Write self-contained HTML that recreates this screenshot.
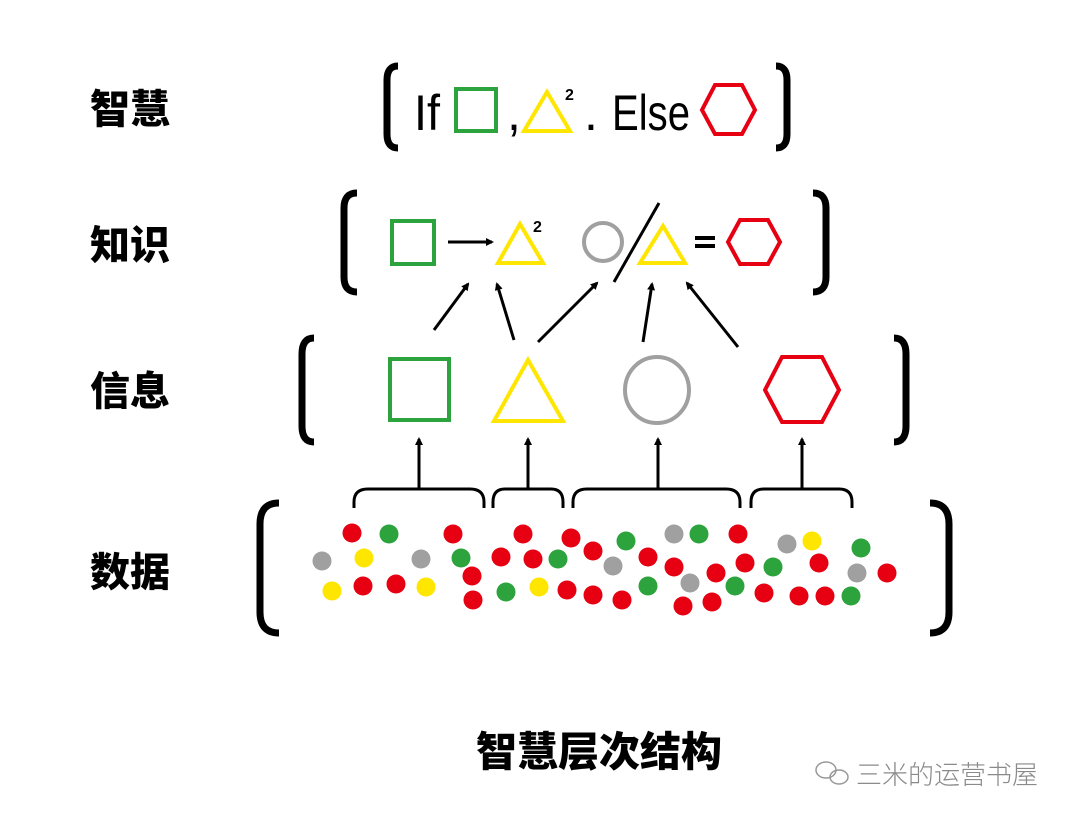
<!DOCTYPE html>
<html><head><meta charset="utf-8"><style>
html,body{margin:0;padding:0;background:#fff;}
svg{display:block;}
.lab{font-family:"Liberation Sans","Noto Sans CJK SC",sans-serif;font-weight:900;font-size:40px;fill:#000;}
</style></head><body>
<svg width="1080" height="821" viewBox="0 0 1080 821" xmlns="http://www.w3.org/2000/svg">
<defs><marker id="ah" markerWidth="8" markerHeight="8" refX="6" refY="4" orient="auto" markerUnits="userSpaceOnUse"><path d="M0,0 L8,4 L0,8 z" fill="#000"/></marker></defs>
<g class="lab">
<text x="90" y="123">智慧</text>
<text x="90" y="259">知识</text>
<text x="90" y="405">信息</text>
<text x="90" y="586">数据</text>
</g>
<g fill="none" stroke="#000" stroke-width="7">
<path d="M398,66 Q387,66 387,80 L387,134 Q387,148 398,148"/>
<path d="M776,66 Q787,66 787,80 L787,134 Q787,148 776,148"/>
<path d="M357,193 Q344,193 344,208 L344,277 Q344,292 357,292"/>
<path d="M813,193 Q826,193 826,208 L826,277 Q826,292 813,292"/>
<path d="M314,338 Q302,338 302,354 L302,426 Q302,442 314,442"/>
<path d="M894,338 Q906,338 906,354 L906,426 Q906,442 894,442"/>
<path d="M279,503 Q260,503 260,524 L260,612 Q260,633 279,633"/>
<path d="M930,503 Q949,503 949,524 L949,612 Q949,633 930,633"/>
</g>
<text x="414" y="130" font-family="Liberation Sans,sans-serif" font-size="50" fill="#000" textLength="26" lengthAdjust="spacingAndGlyphs">If</text>
<rect x="456" y="89" width="40" height="42" fill="none" stroke="#2ca33c" stroke-width="4"/>
<text x="507" y="130" font-family="Liberation Sans,sans-serif" font-size="50" fill="#000">,</text>
<polygon points="547,92 524,131 570,131" fill="none" stroke="#ffe600" stroke-width="4"/>
<text x="565" y="100" font-family="Liberation Sans,sans-serif" font-weight="bold" font-size="16" fill="#000">2</text>
<text x="584" y="130" font-family="Liberation Sans,sans-serif" font-size="50" fill="#000">.</text>
<text x="612" y="130" font-family="Liberation Sans,sans-serif" font-size="50" fill="#000" textLength="78" lengthAdjust="spacingAndGlyphs">Else</text>
<polygon points="715,85 742,85 755,110 742,134 715,134 702,110" fill="none" stroke="#e60012" stroke-width="4"/>
<rect x="392" y="221" width="42" height="43" fill="none" stroke="#2ca33c" stroke-width="4"/>
<line x1="448" y1="242" x2="492" y2="242" stroke="#000" stroke-width="3" marker-end="url(#ah)"/>
<polygon points="520,224 498,263 543,263" fill="none" stroke="#ffe600" stroke-width="4"/>
<text x="533" y="232" font-family="Liberation Sans,sans-serif" font-weight="bold" font-size="16" fill="#000">2</text>
<circle cx="603" cy="242" r="19" fill="none" stroke="#a0a0a0" stroke-width="4"/>
<line x1="659" y1="203" x2="614" y2="282" stroke="#000" stroke-width="3"/>
<polygon points="663,226 640,263 685,263" fill="none" stroke="#ffe600" stroke-width="4"/>
<rect x="695" y="236" width="20" height="4" fill="#000"/><rect x="695" y="244" width="20" height="4" fill="#000"/>
<polygon points="740,220 768,220 780,242 768,264 740,264 728,242" fill="none" stroke="#e60012" stroke-width="4"/>
<g stroke="#000" stroke-width="3" marker-end="url(#ah)">
<line x1="434" y1="330" x2="468" y2="284"/>
<line x1="514" y1="340" x2="497" y2="284"/>
<line x1="538" y1="342" x2="597" y2="283"/>
<line x1="643" y1="342" x2="652" y2="284"/>
<line x1="738" y1="347" x2="687" y2="283"/>
</g>
<rect x="390" y="359" width="59" height="61" fill="none" stroke="#2ca33c" stroke-width="4"/>
<polygon points="528,360 494,421 563,421" fill="none" stroke="#ffe600" stroke-width="4"/>
<ellipse cx="657" cy="390" rx="32" ry="33" fill="none" stroke="#a0a0a0" stroke-width="4"/>
<polygon points="782,357 822,357 839,390 822,422 782,422 765,390" fill="none" stroke="#e60012" stroke-width="4"/>
<g stroke="#000" stroke-width="3" fill="none">
<path d="M354,508 L354,502 Q354,489 368,489 L470,489 Q484,489 484,502 L484,508"/>
<path d="M493,508 L493,502 Q493,489 505,489 L551,489 Q563,489 563,502 L563,508"/>
<path d="M573,508 L573,502 Q573,489 587,489 L726,489 Q740,489 740,502 L740,508"/>
<path d="M751,508 L751,502 Q751,489 764,489 L839,489 Q852,489 852,502 L852,508"/>
</g>
<g stroke="#000" stroke-width="3" marker-end="url(#ah)">
<line x1="419" y1="489" x2="419" y2="439"/>
<line x1="528" y1="489" x2="528" y2="439"/>
<line x1="658" y1="489" x2="658" y2="439"/>
<line x1="802" y1="489" x2="802" y2="439"/>
</g>
<g fill="#e60012">
<circle cx="352" cy="533" r="9.5"/><circle cx="453" cy="534" r="9.5"/><circle cx="523" cy="534" r="9.5"/><circle cx="571" cy="538" r="9.5"/><circle cx="593" cy="551" r="9.5"/><circle cx="501" cy="557" r="9.5"/><circle cx="533" cy="559" r="9.5"/><circle cx="648" cy="557" r="9.5"/><circle cx="674" cy="567" r="9.5"/><circle cx="472" cy="576" r="9.5"/><circle cx="363" cy="586" r="9.5"/><circle cx="396" cy="584" r="9.5"/><circle cx="473" cy="600" r="9.5"/><circle cx="567" cy="590" r="9.5"/><circle cx="593" cy="595" r="9.5"/><circle cx="622" cy="600" r="9.5"/><circle cx="683" cy="606" r="9.5"/><circle cx="738" cy="534" r="9.5"/><circle cx="716" cy="573" r="9.5"/><circle cx="745" cy="563" r="9.5"/><circle cx="712" cy="602" r="9.5"/><circle cx="819" cy="563" r="9.5"/><circle cx="764" cy="593" r="9.5"/><circle cx="799" cy="596" r="9.5"/><circle cx="825" cy="596" r="9.5"/><circle cx="887" cy="573" r="9.5"/>
</g>
<g fill="#2ca33c">
<circle cx="389" cy="534" r="9.5"/><circle cx="626" cy="541" r="9.5"/><circle cx="461" cy="558" r="9.5"/><circle cx="558" cy="559" r="9.5"/><circle cx="506" cy="592" r="9.5"/><circle cx="648" cy="586" r="9.5"/><circle cx="699" cy="534" r="9.5"/><circle cx="735" cy="586" r="9.5"/><circle cx="773" cy="567" r="9.5"/><circle cx="851" cy="596" r="9.5"/><circle cx="861" cy="548" r="9.5"/>
</g>
<g fill="#a0a0a0">
<circle cx="674" cy="534" r="9.5"/><circle cx="322" cy="561" r="9.5"/><circle cx="421" cy="559" r="9.5"/><circle cx="613" cy="566" r="9.5"/><circle cx="690" cy="583" r="9.5"/><circle cx="787" cy="544" r="9.5"/><circle cx="857" cy="573" r="9.5"/>
</g>
<g fill="#ffe600">
<circle cx="364" cy="558" r="9.5"/><circle cx="332" cy="591" r="9.5"/><circle cx="426" cy="587" r="9.5"/><circle cx="539" cy="587" r="9.5"/><circle cx="812" cy="541" r="9.5"/>
</g>
<text x="476" y="766" class="lab" style="font-size:41px">智慧层次结构</text>
<g fill="none" stroke="#999" stroke-width="1.5">
<ellipse cx="826" cy="770" rx="10" ry="8"/>
<ellipse cx="839" cy="777" rx="9" ry="7"/>
</g>
<text x="856" y="784" font-family="Liberation Sans,'Noto Sans CJK SC',sans-serif" font-size="26" fill="#8a8a8a" font-weight="300">三米的运营书屋</text>
</svg>
</body></html>
